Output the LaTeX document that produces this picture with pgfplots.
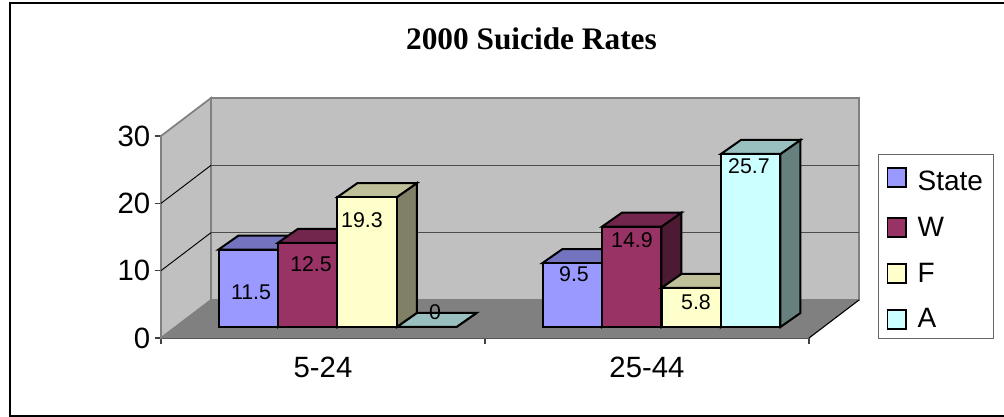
\documentclass[border=0pt]{standalone}
\usepackage{pgfplots}
\pgfplotsset{compat=1.18}
\usepackage{fontspec}
\setmainfont{Liberation Sans}
\newfontfamily\titlefont{Liberation Serif}
\definecolor{wall}{HTML}{C0C0C0}
\definecolor{floorc}{HTML}{808080}
\definecolor{cS}{HTML}{9999FF}\definecolor{cSt}{HTML}{7373BF}\definecolor{cSs}{HTML}{4D4D80}
\definecolor{cW}{HTML}{993366}\definecolor{cWt}{HTML}{73264D}\definecolor{cWs}{HTML}{4D1A33}
\definecolor{cF}{HTML}{FFFFCC}\definecolor{cFt}{HTML}{BFBF99}\definecolor{cFs}{HTML}{808066}
\definecolor{cA}{HTML}{CCFFFF}\definecolor{cAt}{HTML}{99BFBF}\definecolor{cAs}{HTML}{668080}
\newcommand{\threedbar}[5]{%
  \pgfmathsetmacro{\xa}{#1}\pgfmathsetmacro{\xb}{#1+0.1836}
  \pgfmathsetmacro{\xc}{#1+0.0617}\pgfmathsetmacro{\xd}{#1+0.1836+0.0617}
  \pgfmathsetmacro{\ya}{1.634}\pgfmathsetmacro{\yb}{1.634+#2}
  \pgfmathsetmacro{\yc}{1.634+2.08}\pgfmathsetmacro{\yd}{1.634+2.08+#2}
  \addplot[forget plot,fill=#5,draw=black,line width=1.5pt,line join=miter] coordinates {(\xb,\ya)(\xd,\yc)(\xd,\yd)(\xb,\yb)} -- cycle;
  \addplot[forget plot,fill=#4,draw=black,line width=1.5pt,line join=miter] coordinates {(\xa,\yb)(\xb,\yb)(\xd,\yd)(\xc,\yd)} -- cycle;
  \addplot[forget plot,fill=#3,draw=black,line width=1.5pt,line join=miter] coordinates {(\xa,\ya)(\xb,\ya)(\xb,\yb)(\xa,\yb)} -- cycle;
}
\begin{document}
\begin{tikzpicture}[x=1pt,y=1pt]
\path[use as bounding box,fill=white] (0,0) rectangle (753,312.75);
\draw[black,line width=1.5pt] (753,310.35) -- (7.5,310.35) -- (7.5,0.9) -- (753,0.9);
\begin{axis}[
  at={(120.75pt,59.25pt)},anchor=south west,
  scale only axis,width=486pt,height=151.5pt,
  xmin=-0.5,xmax=1.5,ymin=0,ymax=30,clip=false,
  axis x line=bottom,axis y line=left,
  axis line style={-,color=black!75,line width=1.1pt},
  xtick={-0.5,0.5,1.5},xticklabels={,,},
  extra x ticks={0,1},extra x tick labels={5-24,25-44},
  extra x tick style={major tick length=0pt,tick label style={yshift=-11pt}},
  ytick={0,10,20,30},
  tick align=outside,major tick length=4.5pt,
  tick style={color=black!75,line width=0.8pt},
  tick label style={font=\fontsize{22}{24}\selectfont},
  /pgf/number format/assume math mode=true,
  legend style={at={(1.1065,0.911)},anchor=north west,draw=black!60,line width=0.9pt,
    font=\fontsize{21}{23}\selectfont,row sep=14.5pt,inner xsep=6pt,inner ysep=4.4pt,
    /tikz/column 1/.style={column sep=6pt}},
  legend cell align=left,
  legend image code/.code={\draw[#1,draw=black,line width=1.3pt] (0pt,-7pt) rectangle (14pt,7pt);},
]
\addlegendimage{fill=cS}\addlegendentry{\rule{0pt}{20.3pt}State}
\addlegendimage{fill=cW}\addlegendentry{W}
\addlegendimage{fill=cF}\addlegendentry{F}
\addlegendimage{fill=cA}\addlegendentry{A}
% walls and floor
\addplot[forget plot,fill=wall,draw=floorc,line width=1.3pt] coordinates {(-0.3457,5.644)(1.6543,5.644)(1.6543,35.644)(-0.3457,35.644)} -- cycle;
\addplot[forget plot,fill=wall,draw=floorc,line width=1.3pt] coordinates {(-0.5,0)(-0.3457,5.644)(-0.3457,35.644)(-0.5,30)} -- cycle;
\addplot[forget plot,fill=floorc,draw=floorc] coordinates {(-0.5,0)(1.5,0)(1.6543,5.644)(-0.3457,5.644)} -- cycle;
\addplot[forget plot,black!70,line width=1pt] coordinates {(-0.3457,15.644)(1.6543,15.644)};
\addplot[forget plot,black!70,line width=1pt] coordinates {(-0.3457,25.644)(1.6543,25.644)};
\addplot[forget plot,black,line width=0.7pt] coordinates {(-0.5,10)(-0.3457,15.644)};
\addplot[forget plot,black,line width=0.7pt] coordinates {(-0.5,20)(-0.3457,25.644)};
\addplot[forget plot,black,line width=0.8pt] coordinates {(1.5,0)(1.6543,5.644)};
% bars: left edge, value, colours
\threedbar{-0.32245}{11.5}{cS}{cSt}{cSs}
\threedbar{-0.13885}{12.5}{cW}{cWt}{cWs}
\threedbar{0.04475}{19.3}{cF}{cFt}{cFs}
\threedbar{0.22835}{0}{cA}{cAt}{cAs}
\threedbar{0.67755}{9.5}{cS}{cSt}{cSs}
\threedbar{0.86115}{14.9}{cW}{cWt}{cWs}
\threedbar{1.04475}{5.8}{cF}{cFt}{cFs}
\threedbar{1.22835}{25.7}{cA}{cAt}{cAs}
\begin{scope}[every node/.style={font=\fontsize{16}{18}\selectfont,inner sep=0pt}]
\node at (axis cs:-0.2222,6.83) {11.5};
\node at (axis cs:-0.0370,10.99) {12.5};
\node at (axis cs:0.1204,17.53) {19.3};
\node at (axis cs:0.3457,3.91) {0};
\node at (axis cs:0.7747,9.51) {9.5};
\node at (axis cs:0.9537,14.56) {14.9};
\node at (axis cs:1.1512,5.39) {5.8};
\node at (axis cs:1.3148,25.55) {25.7};
\end{scope}
\end{axis}
\node[font=\titlefont\bfseries\fontsize{23.5}{26}\selectfont] at (398.6,283.5) {2000 Suicide Rates};
\end{tikzpicture}
\end{document}
